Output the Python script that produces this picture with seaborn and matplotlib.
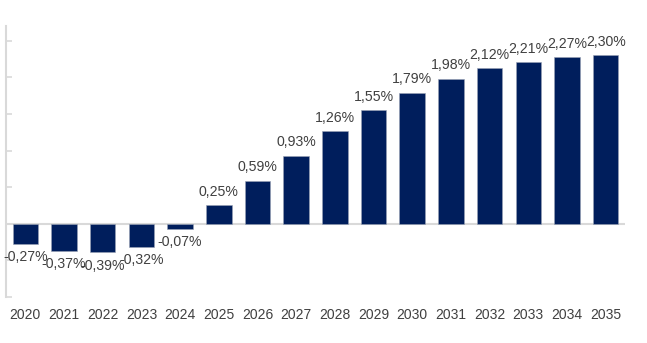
import matplotlib
matplotlib.use("Agg")
import matplotlib.pyplot as plt
import seaborn as sns
import pandas as pd

years = ["2020", "2021", "2022", "2023", "2024", "2025", "2026", "2027",
         "2028", "2029", "2030", "2031", "2032", "2033", "2034", "2035"]
values = [-0.27, -0.37, -0.39, -0.32, -0.07, 0.25, 0.59, 0.93,
          1.26, 1.55, 1.79, 1.98, 2.12, 2.21, 2.27, 2.30]
y_ticks = [-1.0, -0.5, 0.0, 0.5, 1.0, 1.5, 2.0, 2.5]

sns.set_theme(style="white")
plt.rcParams["font.family"] = ["Liberation Sans", "DejaVu Sans"]

df = pd.DataFrame({"year": years, "value": values})

fig = plt.figure(figsize=(6.47, 3.43), dpi=100)
ax = fig.add_axes([6 / 647, 1 - 297 / 343, (625 - 6) / 647, (297 - 26) / 343])

ax.axhline(0, color="#d9d9d9", lw=1.5, zorder=0)
sns.barplot(data=df, x="year", y="value", color="#001e5c", width=0.66,
            edgecolor="#9aa3b5", linewidth=0.4, saturation=1, ax=ax, zorder=2)

labels = [f"{v:.2f}".replace(".", ",") + "%" for v in values]
ax.bar_label(ax.containers[0], labels=labels, padding=4.5, fontsize=10.2,
             color="#404040")

ax.set_xlim(-0.5, 15.5)
ax.set_ylim(-1.0, 2.7)
ax.set_yticks(y_ticks)
ax.set_yticklabels([])
ax.set_xlabel("")
ax.set_ylabel("")

for s in ["top", "right", "bottom"]:
    ax.spines[s].set_visible(False)
ax.spines["left"].set_color("#d9d9d9")
ax.spines["left"].set_linewidth(1.5)
ax.tick_params(axis="y", direction="in", length=4, width=1.2, color="#d9d9d9", left=True)
ax.tick_params(axis="x", length=0, pad=8, labelsize=10.0, labelcolor="#404040")

fig.savefig("out.png", dpi=100)
